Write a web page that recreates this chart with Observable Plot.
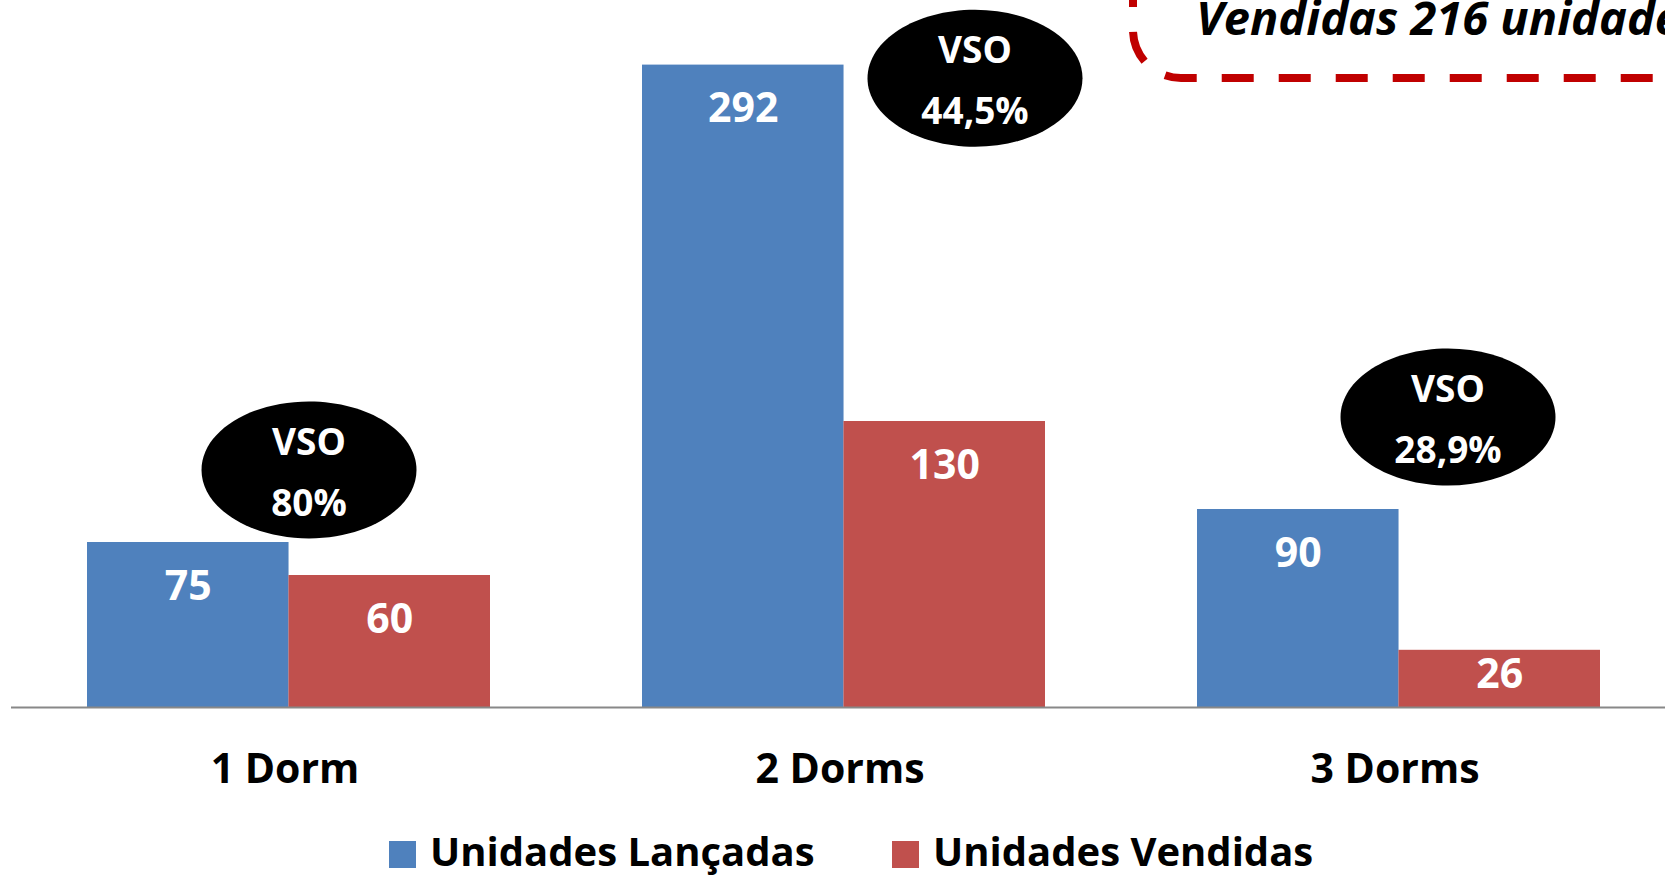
<!DOCTYPE html>
<html>
<head>
<meta charset="utf-8">
<script src="https://cdn.jsdelivr.net/npm/d3@7"></script>
<script src="https://cdn.jsdelivr.net/npm/@observablehq/plot@0.6"></script>
<style>
  html, body { margin: 0; padding: 0; background: #fff; overflow: hidden; }
  #wrap { position: relative; width: 1665px; height: 877px; font-family: "Open Sans", sans-serif; }
  #chart { position: absolute; left: 0; top: 0; }
  #note { position: absolute; left: 0; top: 0; pointer-events: none; }
  .leg { position: absolute; top: 824px; display: flex; align-items: flex-start; line-height: 54px;
         font-size: 40px; font-weight: 700; color: #000; white-space: nowrap; }
  .sw { width: 27px; height: 27px; margin-top: 17px; margin-right: 14px; }
</style>
</head>
<body>
<div id="wrap">
  <div id="chart"></div>
  <svg id="note" width="1665" height="877">
    <path d="M1133,-50 L1133,30 A48,48 0 0 0 1181,78 L1720,78" fill="none" stroke="#C00000"
          stroke-width="8" stroke-dasharray="32 25" stroke-dashoffset="32"/>
    <text x="1196" y="35" font-family="Open Sans" font-size="47" font-weight="700" font-style="italic" fill="#000">Vendidas 216 unidades</text>
  </svg>
  <div id="legend"></div>
</div>
<script>
// ---- data ----
const categories = ["1 Dorm", "2 Dorms", "3 Dorms"];
const lancadas = [75, 292, 90];
const vendidas = [60, 130, 26];
const vsoLabels = ["80%", "44,5%", "28,9%"];
const seriesNames = ["Unidades Lançadas", "Unidades Vendidas"];
const colors = ["#4F81BD", "#C0504D"];

// ---- annotation layout (bubble anchors: y in data units, x offset in px) ----
const bubbleY = [108, 286, 132];
const bubbleDx = [20, 131, 49];

// ---- layout ----
const W = 1665, H = 810, MT = 3, MB = 103;
const yMax = 320;
const xRange = [11, 1676];
const padIn = 0.274, padOut = 0.137;
const step = (xRange[1] - xRange[0]) / (categories.length - padIn + 2 * padOut);
const BW = step * (1 - padIn);
const k = (H - MB - MT) / yMax; // px per unit

const rows = categories.map((c, i) => ({category: c, lancadas: lancadas[i], vendidas: vendidas[i], vso: vsoLabels[i]}));

function labelY(v) {
  const off = Math.min(28, k * v - 49);
  return v - off / k;
}

const RX = 107.5, RY = 68.5, KAP = 0.5523;
const ellipse = {
  draw(ctx) {
    ctx.moveTo(RX, 0);
    ctx.bezierCurveTo(RX, KAP * RY, KAP * RX, RY, 0, RY);
    ctx.bezierCurveTo(-KAP * RX, RY, -RX, KAP * RY, -RX, 0);
    ctx.bezierCurveTo(-RX, -KAP * RY, -KAP * RX, -RY, 0, -RY);
    ctx.bezierCurveTo(KAP * RX, -RY, RX, -KAP * RY, RX, 0);
    ctx.closePath();
  }
};

const bubbleMarks = rows.flatMap((d, i) => [
  Plot.dot([d], {x: "category", y: () => bubbleY[i], dx: bubbleDx[i], symbol: ellipse, fill: "#000"}),
  Plot.text([d], {x: "category", y: () => bubbleY[i], dx: bubbleDx[i], dy: -4, text: r => "VSO\n" + r.vso,
    lineHeight: 1.65, fontSize: 37, fontWeight: "bold", fill: "#fff"})
]);

const chart = Plot.plot({
  width: W,
  height: H,
  marginTop: MT,
  marginBottom: MB,
  marginLeft: 11,
  marginRight: 0,
  style: {fontFamily: "Open Sans", maxWidth: "none", background: "white", overflow: "visible"},
  x: {domain: categories, range: xRange, paddingInner: padIn, paddingOuter: padOut, label: null},
  y: {domain: [0, yMax], axis: null},
  marks: [
    Plot.barY(rows, {x: "category", y: "lancadas", fill: colors[0], insetRight: BW / 2}),
    Plot.barY(rows, {x: "category", y: "vendidas", fill: colors[1], insetLeft: BW / 2}),
    Plot.ruleY([0], {stroke: "#888", strokeWidth: 2}),
    Plot.text(rows, {x: "category", y: d => labelY(d.lancadas), text: d => String(d.lancadas), dx: -BW / 4,
      lineAnchor: "top", fontSize: 41, fontWeight: "bold", fill: "#fff"}),
    Plot.text(rows, {x: "category", y: d => labelY(d.vendidas), text: d => String(d.vendidas), dx: BW / 4,
      lineAnchor: "top", fontSize: 41, fontWeight: "bold", fill: "#fff"}),
    ...bubbleMarks,
    Plot.axisX({tickSize: 0, tickPadding: 46, fontSize: 41, fontWeight: "bold", fill: "#000", label: null, dx: -4})
  ]
});
document.getElementById("chart").appendChild(chart);

// legend
const legendLefts = [389, 892];
const legend = document.getElementById("legend");
seriesNames.forEach((name, i) => {
  const item = document.createElement("div");
  item.className = "leg";
  item.style.left = legendLefts[i] + "px";
  const sw = document.createElement("div");
  sw.className = "sw";
  sw.style.background = colors[i];
  const t = document.createElement("span");
  t.textContent = name;
  item.appendChild(sw);
  item.appendChild(t);
  legend.appendChild(item);
});
</script>
</body>
</html>
